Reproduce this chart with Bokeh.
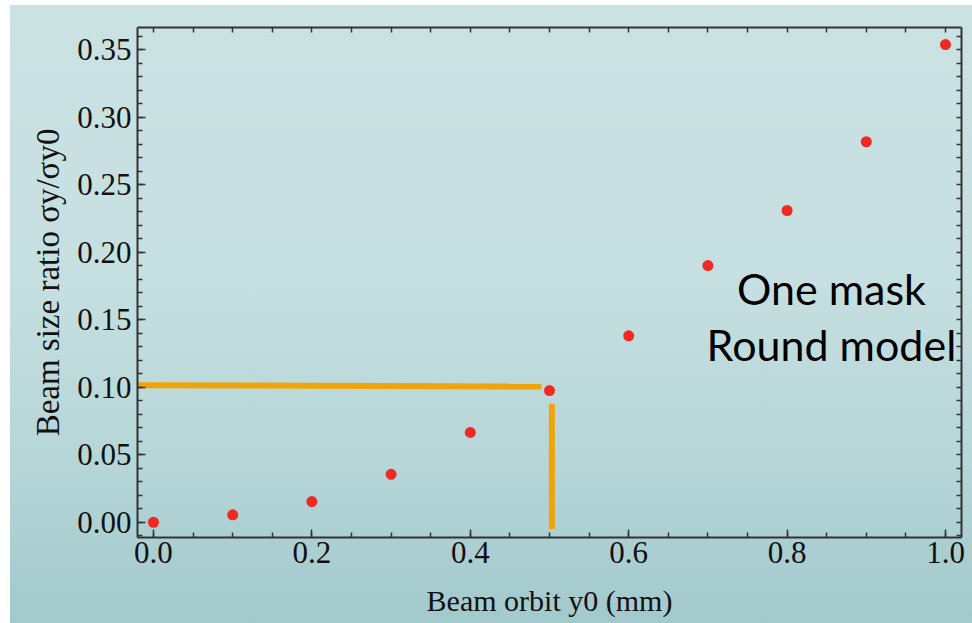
from bokeh.plotting import figure
from bokeh.models import LinearAxis, FixedTicker, NumeralTickFormatter, Range1d, Label
from bokeh.embed import file_html
from bokeh.resources import INLINE

# data
orbit_mm = [0.0, 0.1, 0.2, 0.3, 0.4, 0.5, 0.6, 0.7, 0.8, 0.9, 1.0]
size_ratio = [0.000, 0.0055, 0.0153, 0.0355, 0.0665, 0.0975, 0.138, 0.190, 0.2308, 0.2817, 0.3537]

# guide lines (data coords)
guide_h_x = [-0.0202, 0.490]
guide_h_y = [0.1015, 0.1005]
guide_v_x = [0.503, 0.503]
guide_v_y = [0.0877, -0.0050]

x_major = [0.0, 0.2, 0.4, 0.6, 0.8, 1.0]
x_minor = [round(0.05 * i, 2) for i in range(0, 21)]
y_major = [round(0.05 * i, 2) for i in range(0, 8)]
y_minor = [round(0.01 * i, 2) for i in range(-1, 37)]

annot_lines = ["One mask", "Round model"]
annot_x = 0.856
annot_y = [0.1728, 0.1318]

SERIF = "Liberation Serif"
AX = "#333333"

p = figure(width=972, height=623, output_backend="svg", toolbar_location=None,
           x_range=Range1d(-0.0202, 1.0202), y_range=Range1d(-0.0113, 0.3663),
           x_axis_location=None, y_axis_location=None)
p.min_border_left = 137
p.min_border_right = 11
p.min_border_top = 27
p.min_border_bottom = 86
p.background_fill_color = None
p.border_fill_color = None
p.outline_line_color = None
p.grid.visible = False
p.styles = {"background": "linear-gradient(180deg, #cbe2e3 0%, #c6dfe0 45%, #b5d5d7 75%, #a2c9cc 100%) 10px 5px / calc(100% - 10px) calc(100% - 5px) no-repeat, #ffffff"}

def style_axis(ax):
    ax.axis_line_color = AX
    ax.axis_line_width = 2
    ax.major_tick_line_color = AX
    ax.minor_tick_line_color = AX
    ax.major_tick_line_width = 1.5
    ax.minor_tick_line_width = 1.5
    ax.major_tick_in = 8
    ax.major_tick_out = 0
    ax.minor_tick_in = 5
    ax.minor_tick_out = 0
    ax.major_label_text_font = SERIF
    ax.major_label_text_color = "#111111"
    ax.axis_label_text_font = SERIF
    ax.axis_label_text_font_style = "normal"
    ax.axis_label_text_color = "#111111"

xt = FixedTicker(ticks=x_major, minor_ticks=x_minor)
yt = FixedTicker(ticks=y_major, minor_ticks=y_minor)

bottom = LinearAxis(ticker=xt, formatter=NumeralTickFormatter(format="0.0"),
                    axis_label="Beam orbit y0 (mm)")
style_axis(bottom)
bottom.major_label_text_font_size = "31px"
bottom.axis_label_text_font_size = "30px"
bottom.major_label_standoff = 4
bottom.axis_label_standoff = 18
p.add_layout(bottom, "below")

left = LinearAxis(ticker=yt, formatter=NumeralTickFormatter(format="0.00"),
                  axis_label="Beam size ratio σy/σy0")
style_axis(left)
left.major_label_text_font_size = "31px"
left.axis_label_text_font_size = "33px"
left.major_label_standoff = 6
left.axis_label_standoff = 8
p.add_layout(left, "left")

# mirrored frame ticks (tick marks only, no labels)
top = LinearAxis(ticker=FixedTicker(ticks=[], minor_ticks=x_minor))
style_axis(top)
top.major_label_standoff = 0
top.axis_label_standoff = 0
p.add_layout(top, "above")

right = LinearAxis(ticker=FixedTicker(ticks=[], minor_ticks=y_minor))
style_axis(right)
right.major_label_standoff = 0
right.axis_label_standoff = 0
p.add_layout(right, "right")

GOLD = "#f0a40b"
p.line(guide_h_x, guide_h_y, line_color=GOLD, line_width=6)
p.line(guide_v_x, guide_v_y, line_color=GOLD, line_width=6)

p.scatter(orbit_mm, size_ratio, size=11, fill_color="#f02a22", line_color=None)

for txt, yy in zip(annot_lines, annot_y):
    p.add_layout(Label(x=annot_x, y=yy, text=txt, text_align="center",
                       text_baseline="alphabetic", text_font="Lato",
                       text_font_size="43px", text_color="#000000"))

open("out.html", "w").write(file_html(p, INLINE))
